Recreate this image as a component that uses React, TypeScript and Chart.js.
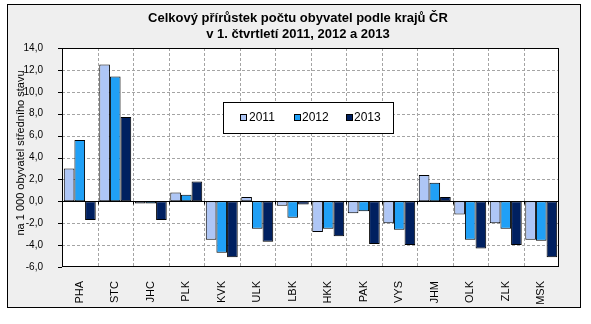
import React, { useEffect, useRef } from "react";
import { Chart, registerables } from "chart.js";

Chart.register(...registerables);

const categories = ["PHA", "STC", "JHC", "PLK", "KVK", "ULK", "LBK", "HKK", "PAK", "VYS", "JHM", "OLK", "ZLK", "MSK"];
const values2011 = [3.0, 12.5, -0.2, 0.8, -3.5, 0.4, -0.4, -2.8, -1.1, -2.0, 2.4, -1.2, -2.0, -3.5];
const values2012 = [5.6, 11.4, -0.2, 0.6, -4.7, -2.5, -1.5, -2.5, -0.9, -2.6, 1.7, -3.5, -2.5, -3.6];
const values2013 = [-1.7, 7.7, -1.7, 1.8, -5.1, -3.7, -0.3, -3.2, -3.9, -4.0, 0.4, -4.3, -4.0, -5.1];
const seriesLabels = ["2011", "2012", "2013"];
const seriesColors = ["#aec6f6", "#20a0f6", "#002060"];
const yMin = -6;
const yMax = 14;
const yStep = 2;
const titleLines = ["Celkový přírůstek počtu obyvatel podle krajů ČR", "v 1. čtvrtletí 2011, 2012 a 2013"];
const yAxisTitle = "na 1 000 obyvatel středního stavu";

const FONT = '"Liberation Sans", Arial, sans-serif';
const GRID = "#a4a4a4";

const decor = {
  id: "decor",
  beforeDraw(chart: any) {
    const ctx = chart.ctx;
    const { left, top, right, bottom } = chart.chartArea;
    const xs = chart.scales.x;
    const ys = chart.scales.y;
    ctx.save();
    ctx.fillStyle = "#ffffff";
    ctx.fillRect(0, 0, chart.width, chart.height);
    ctx.fillStyle = "#efefef";
    ctx.fillRect(7, 4, 574, 304);
    ctx.strokeStyle = "#000";
    ctx.lineWidth = 1;
    ctx.strokeRect(7.5, 4.5, 573, 303);
    ctx.fillStyle = "#ffffff";
    ctx.fillRect(left, top, right - left, bottom - top);

    // dashed grid
    ctx.strokeStyle = GRID;
    ctx.setLineDash([3, 2]);
    ctx.beginPath();
    for (let v = yMin + yStep; v < yMax; v += yStep) {
      if (v === 0) continue;
      const y = Math.round(ys.getPixelForValue(v)) + 0.5;
      ctx.moveTo(left, y);
      ctx.lineTo(right, y);
    }
    for (let i = 1; i < categories.length; i++) {
      const x = Math.round((xs.getPixelForValue(i - 1) + xs.getPixelForValue(i)) / 2) + 0.5;
      ctx.moveTo(x, top);
      ctx.lineTo(x, bottom);
    }
    ctx.stroke();
    // y tick marks
    ctx.setLineDash([]);
    ctx.strokeStyle = "#000";
    ctx.beginPath();
    for (let v = yMin; v <= yMax; v += yStep) {
      const y = Math.round(ys.getPixelForValue(v)) + 0.5;
      ctx.moveTo(left - 4, y);
      ctx.lineTo(left, y);
    }
    ctx.stroke();

    ctx.fillStyle = "#000";
    ctx.font = "bold 13px " + FONT;
    ctx.textAlign = "center";
    ctx.textBaseline = "middle";
    titleLines.forEach((t, i) => ctx.fillText(t, 298, 18 + i * 16));
    ctx.translate(21, 153);
    ctx.rotate(-Math.PI / 2);
    ctx.font = "11px " + FONT;
    ctx.fillText(yAxisTitle, 0, 0);
    ctx.restore();
  },
  afterDatasetsDraw(chart: any) {
    const ctx = chart.ctx;
    const { left, top, right, bottom } = chart.chartArea;
    const xs = chart.scales.x;
    const ys = chart.scales.y;
    ctx.save();
    ctx.strokeStyle = "#000";
    ctx.lineWidth = 1;
    ctx.setLineDash([]);
    const y0 = Math.round(ys.getPixelForValue(0)) + 0.5;
    ctx.beginPath();
    ctx.moveTo(left, y0);
    ctx.lineTo(right, y0);
    for (let i = 1; i < categories.length; i++) {
      const x = Math.round((xs.getPixelForValue(i - 1) + xs.getPixelForValue(i)) / 2) + 0.5;
      ctx.moveTo(x, y0);
      ctx.lineTo(x, y0 + 3);
    }
    ctx.stroke();
    ctx.strokeRect(left + 0.5, top + 0.5, right - left - 1, bottom - top - 1);
    // legend
    ctx.fillStyle = "#fff";
    ctx.fillRect(223, 102, 171, 32);
    ctx.strokeRect(223.5, 102.5, 170, 31);
    const markerX = [240, 294, 346];
    const textX = [249, 302, 354];
    ctx.font = "12px " + FONT;
    ctx.textAlign = "left";
    ctx.textBaseline = "middle";
    chart.data.datasets.forEach((ds: any, i: number) => {
      ctx.fillStyle = ds.backgroundColor;
      ctx.fillRect(markerX[i], 114, 7, 7);
      ctx.strokeRect(markerX[i] + 0.5, 114.5, 6, 6);
      ctx.fillStyle = "#000";
      ctx.fillText(ds.label, textX[i], 118);
    });
    ctx.restore();
  },
};

export default function App() {
  const ref = useRef<HTMLCanvasElement | null>(null);

  useEffect(() => {
    if (!ref.current) return;
    const data = [values2011, values2012, values2013];
    const chart = new Chart(ref.current, {
      type: "bar",
      data: {
        labels: categories,
        datasets: seriesLabels.map((label, i) => ({
          label,
          data: data[i],
          backgroundColor: seriesColors[i],
          borderColor: "#000",
          borderWidth: 1,
          borderSkipped: false,
          categoryPercentage: 0.9,
          barPercentage: 1.0,
        })),
      },
      options: {
        animation: false,
        responsive: false,
        devicePixelRatio: 1,
        layout: { padding: { left: 8, right: 32, top: 48, bottom: 0 } },
        plugins: {
          legend: { display: false },
          title: { display: false },
          tooltip: { enabled: false },
        },
        scales: {
          x: {
            afterFit(scale: any) {
              scale.height = 57;
            },
            grid: { display: false },
            border: { display: false },
            ticks: {
              autoSkip: false,
              minRotation: 90,
              maxRotation: 90,
              padding: 6,
              color: "#000",
              font: { family: FONT, size: 11 },
            },
          },
          y: {
            min: yMin,
            max: yMax,
            afterFit(scale: any) {
              scale.width = 54;
            },
            grid: { display: false },
            border: { display: false },
            ticks: {
              stepSize: yStep,
              padding: 11,
              color: "#000",
              font: { family: FONT, size: 10 },
              callback: (v: any) => Number(v).toFixed(1).replace(".", ","),
            },
          },
        },
      },
      plugins: [decor],
    });
    return () => chart.destroy();
  }, []);

  return (
    <div style={{ position: "fixed", left: 0, top: 0, width: 591, height: 324 }}>
      <canvas ref={ref} width={591} height={324} style={{ display: "block" }} />
    </div>
  );
}
